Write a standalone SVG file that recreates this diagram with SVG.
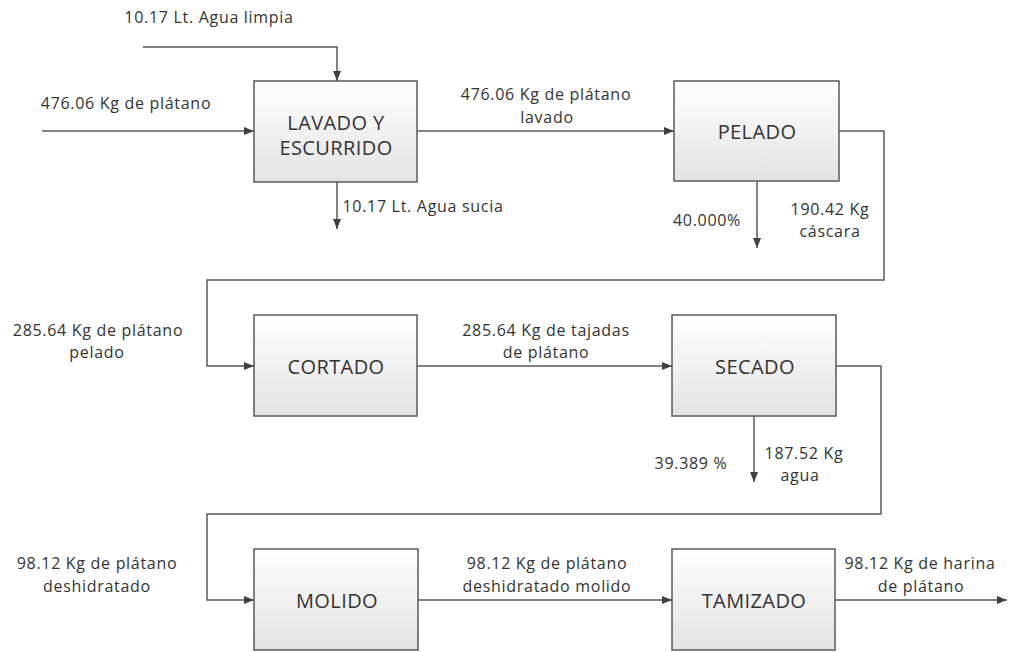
<svg xmlns="http://www.w3.org/2000/svg" width="1028" height="652" viewBox="0 0 1028 652">
<style>
.box{fill:url(#g);stroke:#5a5a5a;stroke-width:1.5}
.bl{font-family:"Open Sans","Liberation Sans",sans-serif;font-size:20px;letter-spacing:0.4px;fill:#333;text-anchor:middle;dominant-baseline:central}
.t{font-family:"Open Sans","Liberation Sans",sans-serif;font-size:16px;letter-spacing:0.7px;fill:#333;text-anchor:middle;dominant-baseline:central}
.c{fill:none;stroke:#595959;stroke-width:1.5}
</style>
<defs>
<linearGradient id="g" x1="0" y1="0" x2="0" y2="1">
<stop offset="0" stop-color="#ffffff"/>
<stop offset="1" stop-color="#e3e3e3"/>
</linearGradient>
<marker id="a" markerWidth="10" markerHeight="8" refX="10" refY="4" orient="auto" markerUnits="userSpaceOnUse">
<path d="M0,0 L10,4 L0,8 Z" fill="#404040"/>
</marker>
</defs>
<rect width="1028" height="652" fill="#fff"/>
<g id="connectors">
<path class="c" d="M143,47 H337 V81" marker-end="url(#a)"/>
<path class="c" d="M42,131 H254" marker-end="url(#a)"/>
<path class="c" d="M337,182 V229" marker-end="url(#a)"/>
<path class="c" d="M417,131 H674" marker-end="url(#a)"/>
<path class="c" d="M757,181 V248" marker-end="url(#a)"/>
<path class="c" d="M839,131 H884 V280 H207 V366 H254" marker-end="url(#a)"/>
<path class="c" d="M417,366 H672" marker-end="url(#a)"/>
<path class="c" d="M754,416 V482" marker-end="url(#a)"/>
<path class="c" d="M836,366 H881 V514 H207 V600 H254" marker-end="url(#a)"/>
<path class="c" d="M418,600 H672" marker-end="url(#a)"/>
<path class="c" d="M835,600 H1007" marker-end="url(#a)"/>
</g>
<g id="lavado">
<rect class="box" x="254" y="81" width="163" height="101"/>
<text class="bl" x="336" y="122">LAVADO Y</text>
<text class="bl" x="336" y="147">ESCURRIDO</text>
</g>
<g id="pelado">
<rect class="box" x="674" y="81" width="165" height="100"/>
<text class="bl" x="757" y="131">PELADO</text>
</g>
<g id="cortado">
<rect class="box" x="254" y="315" width="163" height="101"/>
<text class="bl" x="336" y="366">CORTADO</text>
</g>
<g id="secado">
<rect class="box" x="672" y="315" width="164" height="101"/>
<text class="bl" x="755" y="366">SECADO</text>
</g>
<g id="molido">
<rect class="box" x="254" y="549" width="164" height="101"/>
<text class="bl" x="337" y="600">MOLIDO</text>
</g>
<g id="tamizado">
<rect class="box" x="672" y="549" width="163" height="101"/>
<text class="bl" x="754" y="600">TAMIZADO</text>
</g>
<g id="labels">
<text class="t" x="209" y="17">10.17 Lt. Agua limpia</text>
<text class="t" x="126" y="103">476.06 Kg de plátano</text>
<text class="t" x="423" y="206">10.17 Lt. Agua sucia</text>
<text class="t" x="546" y="94">476.06 Kg de plátano</text>
<text class="t" x="547" y="117">lavado</text>
<text class="t" x="707" y="220">40.000%</text>
<text class="t" x="830" y="209">190.42  Kg</text>
<text class="t" x="830" y="231">cáscara</text>
<text class="t" x="98" y="330">285.64 Kg de plátano</text>
<text class="t" x="97" y="352">pelado</text>
<text class="t" x="546" y="330">285.64 Kg de tajadas</text>
<text class="t" x="546" y="352">de plátano</text>
<text class="t" x="691" y="463">39.389 %</text>
<text class="t" x="804" y="453">187.52 Kg</text>
<text class="t" x="800" y="475">agua</text>
<text class="t" x="97" y="563">98.12 Kg de plátano</text>
<text class="t" x="97" y="586">deshidratado</text>
<text class="t" x="547" y="563">98.12 Kg de plátano</text>
<text class="t" x="547" y="586">deshidratado molido</text>
<text class="t" x="920" y="563">98.12 Kg de harina</text>
<text class="t" x="921" y="586">de plátano</text>
</g>
</svg>
